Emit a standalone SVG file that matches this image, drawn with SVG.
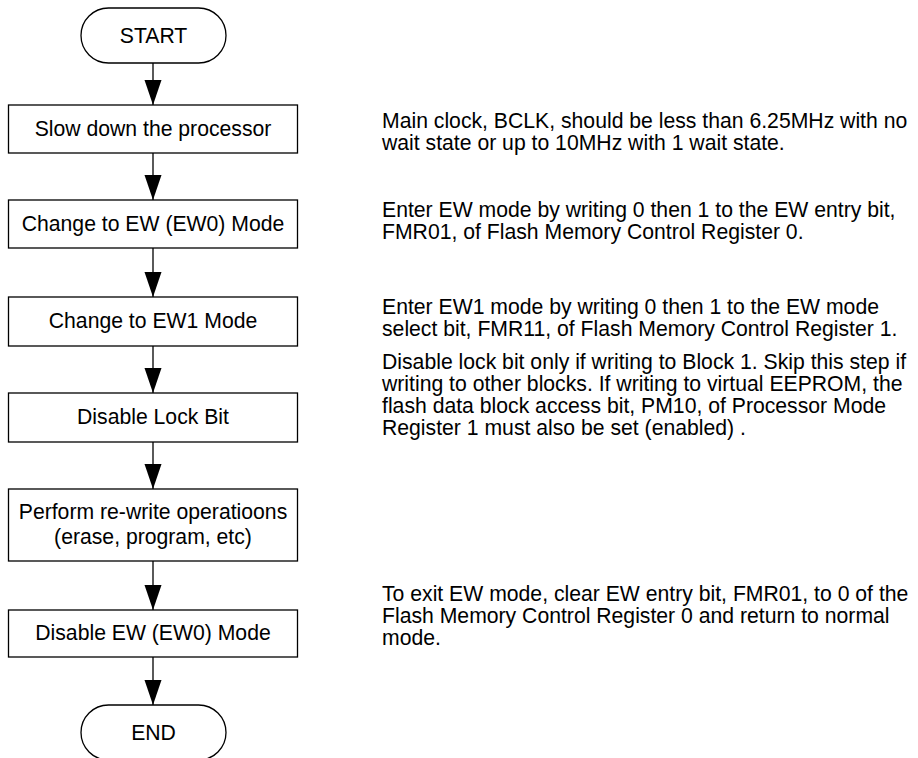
<svg xmlns="http://www.w3.org/2000/svg" width="918" height="758" viewBox="0 0 918 758">
<style>
.box{fill:#fff;stroke:#000;stroke-width:1.3}
.t{font-family:"Liberation Sans",Arial,sans-serif;font-size:21.2px;fill:#000}
.c{text-anchor:middle}
.ln{fill:none;stroke:#000;stroke-width:1.3}
</style>
<defs>
<marker id="ah" markerUnits="userSpaceOnUse" markerWidth="26" markerHeight="18" viewBox="0 0 26 18" refX="25" refY="9" orient="auto">
<path d="M0,0.5 L25,9 L0,17.5 Z" fill="#000"/>
</marker>
</defs>
<rect width="918" height="758" fill="#fff"/>
<g id="connectors">
<path class="ln" d="M153,63 V105" marker-end="url(#ah)"/>
<path class="ln" d="M153,153 V200" marker-end="url(#ah)"/>
<path class="ln" d="M153,248 V297" marker-end="url(#ah)"/>
<path class="ln" d="M153,346 V393" marker-end="url(#ah)"/>
<path class="ln" d="M153,442 V489" marker-end="url(#ah)"/>
<path class="ln" d="M153,561 V610" marker-end="url(#ah)"/>
<path class="ln" d="M153,657 V705" marker-end="url(#ah)"/>
</g>
<g id="start">
<rect class="box" x="81" y="8" width="145" height="55" rx="27.5"/>
<text class="t c" x="153.5" y="42.5">START</text>
</g>
<g id="slow">
<rect class="box" x="8.5" y="105" width="289" height="48"/>
<text class="t c" x="153" y="136">Slow down the processor</text>
</g>
<g id="ew0">
<rect class="box" x="8.5" y="200" width="289" height="48"/>
<text class="t c" x="153" y="231">Change to EW (EW0) Mode</text>
</g>
<g id="ew1">
<rect class="box" x="8.5" y="297" width="289" height="49"/>
<text class="t c" x="153" y="328">Change to EW1 Mode</text>
</g>
<g id="lock">
<rect class="box" x="8.5" y="393" width="289" height="49"/>
<text class="t c" x="153" y="424">Disable Lock Bit</text>
</g>
<g id="rewrite">
<rect class="box" x="8.5" y="489" width="289" height="72"/>
<text class="t c" x="153" y="519">Perform re-write operatioons</text>
<text class="t c" x="153" y="544">(erase, program, etc)</text>
</g>
<g id="disable">
<rect class="box" x="8.5" y="610" width="289" height="47"/>
<text class="t c" x="153" y="640">Disable EW (EW0) Mode</text>
</g>
<g id="end">
<rect class="box" x="81" y="705" width="145" height="55" rx="27.5"/>
<text class="t c" x="153.5" y="739.5">END</text>
</g>
<g id="notes">
<text class="t" x="382" y="127.5">Main clock, BCLK, should be less than 6.25MHz with no</text>
<text class="t" x="382" y="149.5">wait state or up to 10MHz with 1 wait state.</text>
<text class="t" x="382" y="216.5">Enter EW mode by writing 0 then 1 to the EW entry bit,</text>
<text class="t" x="382" y="238.5">FMR01, of Flash Memory Control Register 0.</text>
<text class="t" x="382" y="313.5">Enter EW1 mode by writing 0 then 1 to the EW mode</text>
<text class="t" x="382" y="335.5">select bit, FMR11, of Flash Memory Control Register 1.</text>
<text class="t" x="382" y="369">Disable lock bit only if writing to Block 1. Skip this step if</text>
<text class="t" x="382" y="391">writing to other blocks. If writing to virtual EEPROM, the</text>
<text class="t" x="382" y="413">flash data block access bit, PM10, of Processor Mode</text>
<text class="t" x="382" y="435">Register 1 must also be set (enabled) .</text>
<text class="t" x="382" y="601">To exit EW mode, clear EW entry bit, FMR01, to 0 of the</text>
<text class="t" x="382" y="623">Flash Memory Control Register 0 and return to normal</text>
<text class="t" x="382" y="645">mode.</text>
</g>
</svg>
